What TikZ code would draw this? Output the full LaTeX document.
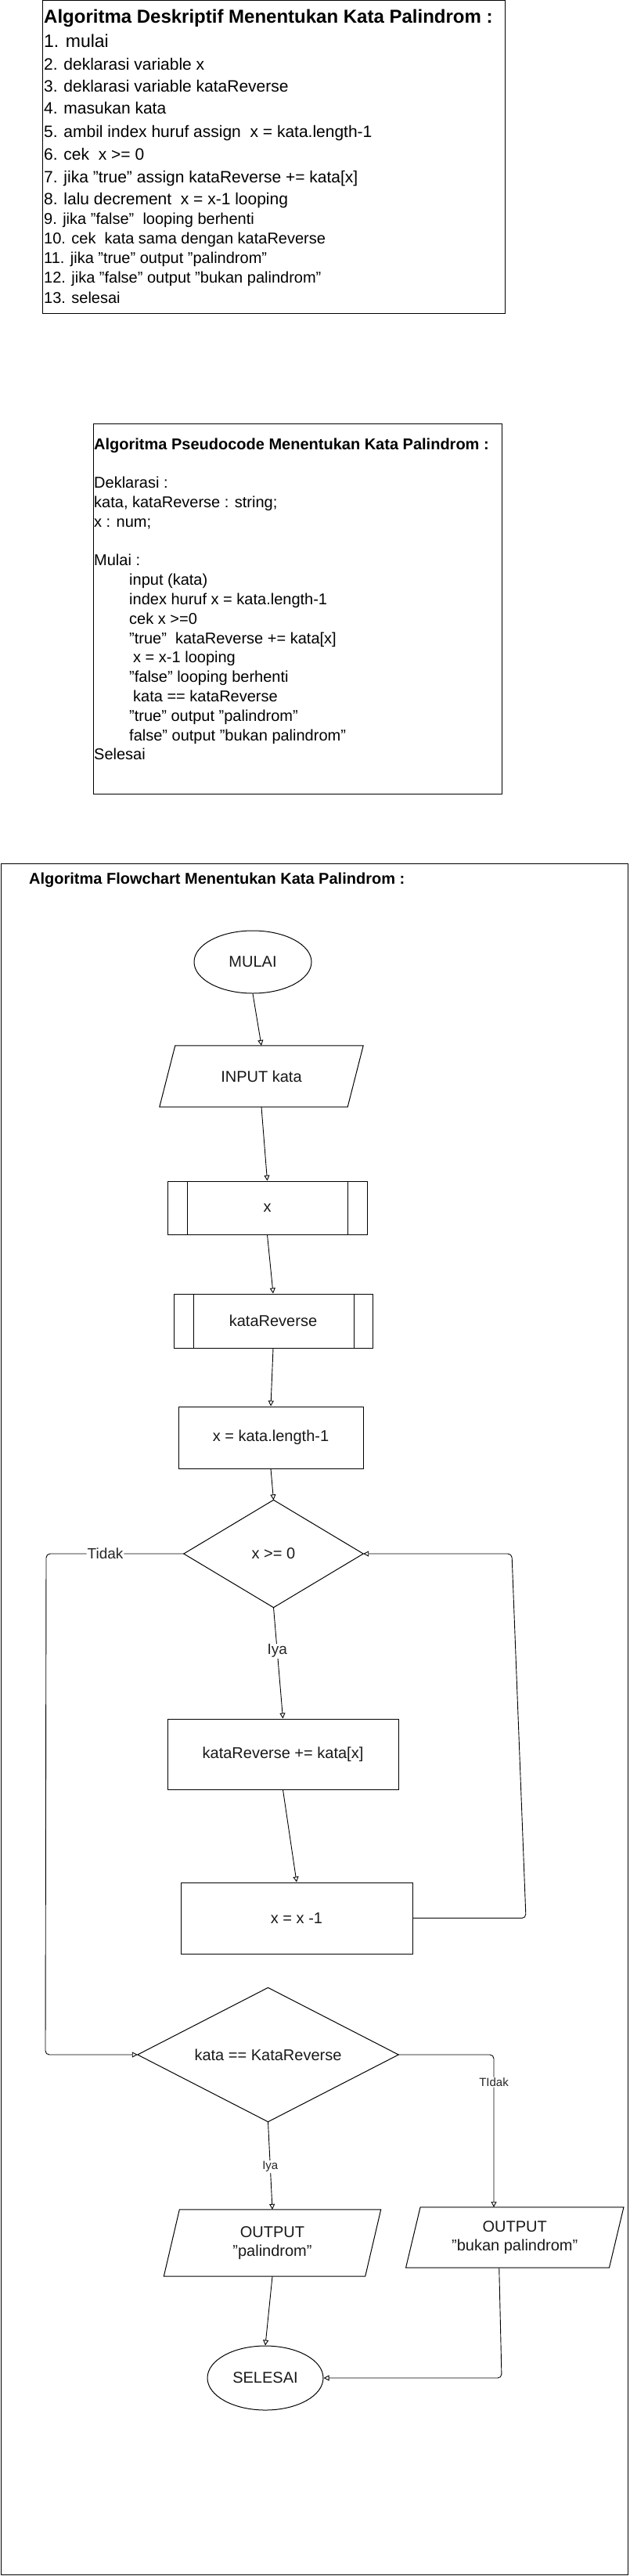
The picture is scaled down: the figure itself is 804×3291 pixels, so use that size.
\documentclass[tikz,border=0pt]{standalone}
\usepackage{fontspec}
\setmainfont{Liberation Sans}
\usetikzlibrary{shapes.geometric,arrows.meta,calc}
\tikzset{
  txt/.style={anchor=base west, inner sep=0pt, text=black},
  tbig/.style={txt, font=\fontsize{24}{29}\selectfont\bfseries},
  tone/.style={txt, font=\fontsize{23}{28}\selectfont},
  ta/.style={txt, font=\fontsize{21}{25}\selectfont},
  tb/.style={txt, font=\fontsize{20}{24}\selectfont},
  ttl/.style={txt, font=\fontsize{20}{24}\selectfont\bfseries},
  frame/.style={draw=black, line width=1pt},
  shp/.style={draw=black, line width=1pt},
  hold/.style={inner sep=0pt, align=center, text=black!90, font=\fontsize{20}{24}\selectfont},
  flow/.style={draw=black, line width=0.9pt, -{Triangle[open,length=7pt,width=7pt]}},
  lbl/.style={fill=white, inner sep=1pt, text=black!85, font=\fontsize{19}{22}\selectfont},
  lbls/.style={fill=white, inner sep=1pt, text=black!85, font=\fontsize{15}{18}\selectfont}
}
\begin{document}
\begin{tikzpicture}[x=1pt,y=-1pt]
\useasboundingbox (0,0) rectangle (804,3291);
\fill[white] (0,0) rectangle (804,3291);

% ---------- Box 1: deskriptif ----------
\draw[frame] (54,1) rectangle (645,400);
\node[tbig] (a0) at (56,30) {Algoritma Deskriptif Menentukan Kata Palindrom :};
\node[tone] (a1) at (56,60.5) {1. mulai};
\node[ta] (a2) at (56,89.5) {2. deklarasi variable x};
\node[ta] (a3) at (56,117.5) {3. deklarasi variable kataReverse};
\node[ta] (a4) at (56,145.5) {4. masukan kata};
\node[ta] (a5) at (56,175.5) {5. ambil index huruf assign\ \ x = kata.length-1};
\node[ta] (a6) at (56,204.5) {6. cek\ \ x >= 0};
\node[ta] (a7) at (56,233.5) {7. jika "true" assign kataReverse += kata[x]};
\node[ta] (a8) at (56,261.5) {8. lalu decrement\ \ x = x-1 looping};
\node[tb] (a9) at (56,287) {9. jika "false"\ \ looping berhenti};
\node[tb] (a10) at (56,312) {10. cek\ \ kata sama dengan kataReverse};
\node[tb] (a11) at (56,337) {11. jika "true" output "palindrom"};
\node[tb] (a12) at (56,362) {12. jika "false" output "bukan palindrom"};
\node[tb] (a13) at (56,387) {13. selesai};

% ---------- Box 2: pseudocode ----------
\draw[frame] (119,541) rectangle (641,1014);
\node[ttl] (b0) at (120,574) {Algoritma Pseudocode Menentukan Kata Palindrom :};
\node[tb] (b1) at (120,623.6) {Deklarasi :};
\node[tb] (b2) at (120,648.4) {kata, kataReverse : string;};
\node[tb] (b3) at (120,673.2) {x : num;};
\node[tb] (b4) at (120,722.8) {Mulai :};
\node[tb] (b5) at (165,747.6) {input (kata)};
\node[tb] (b6) at (165,772.4) {index huruf x = kata.length-1};
\node[tb] (b7) at (165,797.2) {cek x >=0};
\node[tb] (b8) at (165,822) {"true"\ \ kataReverse += kata[x]};
\node[tb] (b9) at (170,846.8) {x = x-1 looping};
\node[tb] (b10) at (165,871.6) {"false" looping berhenti};
\node[tb] (b11) at (170,896.4) {kata == kataReverse};
\node[tb] (b12) at (165,921.2) {"true" output "palindrom"};
\node[tb] (b13) at (165,946) {false" output "bukan palindrom"};
\node[tb] (b14) at (120,970.8) {Selesai};

% ---------- Box 3: flowchart ----------
\draw[frame] (1.5,1103) rectangle (802.5,3289.5);
\node[ttl] (c0) at (37,1129) {Algoritma Flowchart Menentukan Kata Palindrom :};

% shapes
\node[ellipse, shp, hold, minimum width=150pt, minimum height=80pt] (start) at (323,1229) {MULAI};

\node[hold, minimum width=240pt, minimum height=78pt] (inp) at (334,1375) {INPUT kata};
\draw[shp] ($(inp.north west)+(10,0)$) -- ($(inp.north east)+(10,0)$) -- ($(inp.south east)+(-10,0)$) -- ($(inp.south west)+(-10,0)$) -- cycle;

\node[shp, hold, minimum width=255pt, minimum height=68pt] (px1) at (341.5,1543) {x};
\draw[shp] ([xshift=26pt]px1.north west) -- ([xshift=26pt]px1.south west);
\draw[shp] ([xshift=-25pt]px1.north east) -- ([xshift=-25pt]px1.south east);

\node[shp, hold, minimum width=254pt, minimum height=69pt] (px2) at (349,1687.5) {kataReverse};
\draw[shp] ([xshift=26pt]px2.north west) -- ([xshift=26pt]px2.south west);
\draw[shp] ([xshift=-24pt]px2.north east) -- ([xshift=-24pt]px2.south east);

\node[shp, hold, minimum width=236pt, minimum height=79pt] (len) at (346,1836.5) {x = kata.length-1};

\node[hold, minimum width=229pt, minimum height=137pt] (d1) at (349.5,1985) {x >= 0};
\draw[shp] (d1.north) -- (d1.east) -- (d1.south) -- (d1.west) -- cycle;

\node[shp, hold, minimum width=295pt, minimum height=90pt] (kr) at (361.5,2241) {kataReverse += kata[x]};

\node[shp, hold, minimum width=296pt, minimum height=91pt] (dec) at (379,2450.5) {x = x -1};

\node[hold, minimum width=333pt, minimum height=171pt] (d2) at (342.5,2625) {kata == KataReverse};
\draw[shp] (d2.north) -- (d2.east) -- (d2.south) -- (d2.west) -- cycle;

\node[hold, minimum width=257pt, minimum height=85pt] (op) at (348,2865.5) {OUTPUT\\"palindrom"};
\draw[shp] ($(op.north west)+(10,0)$) -- ($(op.north east)+(10,0)$) -- ($(op.south east)+(-10,0)$) -- ($(op.south west)+(-10,0)$) -- cycle;

\node[hold, minimum width=259.5pt, minimum height=77pt] (ob) at (657.75,2858.5) {OUTPUT\\"bukan palindrom"};
\draw[shp] ($(ob.north west)+(9.25,0)$) -- ($(ob.north east)+(9.25,0)$) -- ($(ob.south east)+(-9.25,0)$) -- ($(ob.south west)+(-9.25,0)$) -- cycle;

\node[ellipse, shp, hold, minimum width=148pt, minimum height=82pt] (end) at (339,3038) {SELESAI};

% connectors
\draw[flow] (start.south) -- (inp.north);
\draw[flow] (inp.south) -- (px1.north);
\draw[flow] (px1.south) -- (px2.north);
\draw[flow] (px2.south) -- (len.north);
\draw[flow] (len.south) -- (d1.north);
\draw[flow] (d1.south) -- node[lbl, pos=0.39] (iya1) {Iya} (kr.north);
\draw[flow] (kr.south) -- (dec.north);

\coordinate (r1) at (672,2450.5);
\coordinate (r2) at (654,1985);
\draw[flow, rounded corners=5pt] (dec.east) -- (r1) -- (r2) -- (d1.east);

\coordinate (l1) at (59,1985);
\coordinate (l2) at (58,2625);
\draw[flow, rounded corners=5pt] (d1.west) -- node[lbl, pos=0.57] (tidak1) {Tidak} (l1) -- (l2) -- (d2.west);

\coordinate (t1) at (631,2625);
\draw[flow, rounded corners=5pt] (d2.east) -- (t1) -- node[lbls, pos=0.18] (tidak2) {TIdak} (t1 |- ob.north);

\draw[flow] (d2.south) -- node[lbls, pos=0.51] (iya2) {Iya} (op.north);
\draw[flow] (op.south) -- (end.north);

\coordinate (s1) at (641,3038);
\draw[flow, rounded corners=5pt] ([xshift=-20pt]ob.south) -- (s1) -- (end.east);
\end{tikzpicture}
\end{document}
